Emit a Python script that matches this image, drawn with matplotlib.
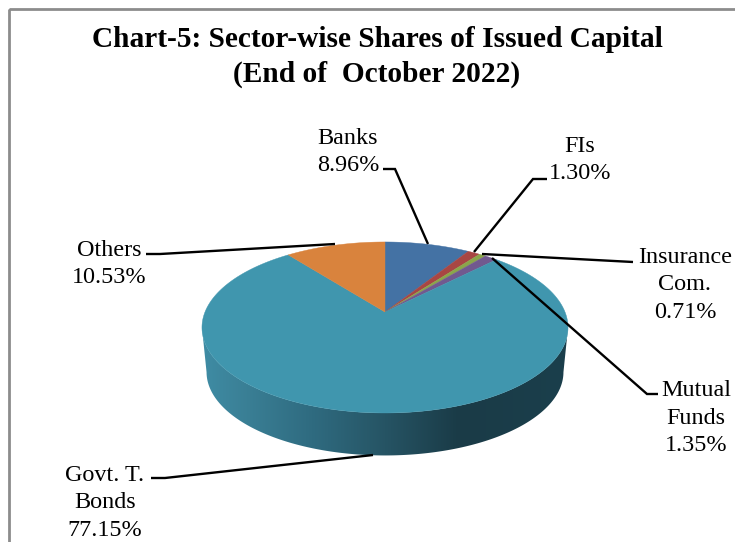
import numpy as np
import matplotlib
matplotlib.use("Agg")
import matplotlib.pyplot as plt
from matplotlib.patches import Polygon, Rectangle
from matplotlib.colors import LinearSegmentedColormap

categories = ["Banks", "FIs", "Insurance\nCom.", "Mutual\nFunds", "Govt. T.\nBonds", "Others"]
shares = [8.96, 1.30, 0.71, 1.35, 77.15, 10.53]
slice_colors = ["#4472A4", "#A84643", "#8AA64A", "#71598F", "#4096AE", "#D9833D"]
wall_stops = [(0.0, "#3F8CA4"), (0.12, "#3A7F95"), (0.3, "#2F6B80"), (0.5, "#265464"),
              (0.7, "#1A3B47"), (1.0, "#1B3F4C")]
title_text = "Chart-5: Sector-wise Shares of Issued Capital\n(End of  October 2022)"

label_pos = [(348, 152), (580, 160), (685, 285), (696, 418), (105, 503), (109, 264)]
leaders = [
    [(383, 169), (395, 169), (428, 244)],
    [(547, 179), (533, 179), (474, 252)],
    [(633, 262), (482, 254)],
    [(658, 394), (647, 394), (492, 258)],
    [(151, 478), (165, 478), (373, 455)],
    [(146, 254), (160, 254), (335, 244)],
]

W, H = 735, 542
cx, cy = 385.0, 312.0
Rx, Ry, p = 180.0, 82.7, 0.181
depth_scale, depth_y = 0.975, 45.0


def project(theta, scale=1.0, dy=0.0):
    u, v = np.sin(theta), np.cos(theta)
    d = 1 + p * v
    return cx + scale * Rx * u / d, cy + dy - scale * Ry * v / d


plt.rcParams["font.family"] = ["Liberation Serif", "DejaVu Serif"]
fig = plt.figure(figsize=(W / 100, H / 100), dpi=100)
ax = fig.add_axes([0, 0, 1, 1])
ax.set_xlim(0, W)
ax.set_ylim(H, 0)
ax.axis("off")

ax.add_patch(Rectangle((9, 9), 760, 560, fill=False, ec="#8C8C8C", lw=2.0, clip_on=True, zorder=1))

# side wall
th = np.linspace(0, 2 * np.pi, 721)
tx, ty = project(th)
bx, by = project(th, depth_scale, depth_y)
i_r, i_l = np.argmax(tx), np.argmin(tx)
bi_r, bi_l = np.argmax(bx), np.argmin(bx)
wall = np.vstack([
    np.column_stack([tx[i_r:i_l + 1], ty[i_r:i_l + 1]]),
    np.column_stack([bx[bi_l:bi_r - 1:-1], by[bi_l:bi_r - 1:-1]]),
])
cmap = LinearSegmentedColormap.from_list("wall", wall_stops)
im = ax.imshow(np.linspace(0, 1, 256)[None, :], cmap=cmap, aspect="auto",
               extent=(tx.min(), tx.max(), by.max() + 1, ty[i_r] - 5), zorder=2)
im.set_clip_path(Polygon(wall, closed=True, transform=ax.transData))
ax.set_xlim(0, W)
ax.set_ylim(H, 0)

# top face
edges = np.radians(np.concatenate([[0], np.cumsum(shares)]) * 3.6)
for a, b, col in zip(edges[:-1], edges[1:], slice_colors):
    t = np.linspace(a, b, max(int(np.degrees(b - a)) * 2, 6))
    x, y = project(t)
    ax.fill(np.r_[cx, x], np.r_[cy, y], color=col, lw=0.3, zorder=3)

# leaders and labels
for pts in leaders:
    xs, ys = zip(*pts)
    ax.plot(xs, ys, color="black", lw=1.7, solid_capstyle="butt", solid_joinstyle="miter", zorder=4)
for (x, y), name, val in zip(label_pos, categories, shares):
    ax.text(x, y, f"{name}\n{val:.2f}%", ha="center", va="center", fontsize=17.4,
            linespacing=1.42, color="black", zorder=5)

ax.text(377, 57, title_text, ha="center", va="center", fontsize=21.2, fontweight="bold",
        linespacing=1.41, color="black", zorder=5)

fig.savefig("out.png", dpi=100)
